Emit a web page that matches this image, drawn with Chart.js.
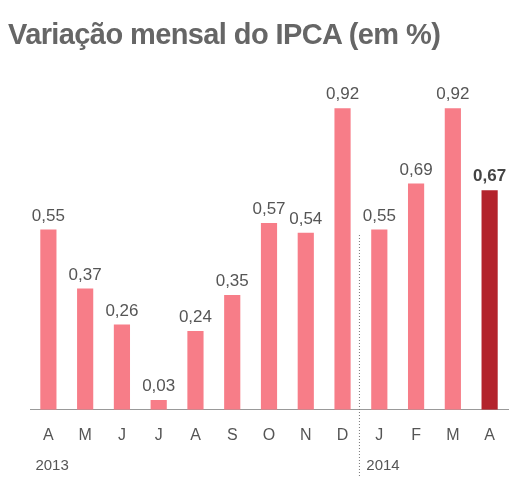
<!DOCTYPE html>
<html>
<head>
<meta charset="utf-8">
<script src="https://cdn.jsdelivr.net/npm/chart.js@4"></script>
<style>
  body { margin: 0; background: #fff; }
  #wrap { position: relative; width: 531px; height: 480px; }
  #title { position: absolute; left: 8px; top: 18px; margin: 0; font: bold 29px "Liberation Sans", Arial, sans-serif; color: #666; letter-spacing: -0.6px; }
</style>
</head>
<body>
<div id="wrap">
  <h1 id="title">Variação mensal do IPCA (em %)</h1>
  <canvas id="chart" width="531" height="480"></canvas>
</div>
<script>
  // Data
  const months = ["A", "M", "J", "J", "A", "S", "O", "N", "D", "J", "F", "M", "A"];
  const values = [0.55, 0.37, 0.26, 0.03, 0.24, 0.35, 0.57, 0.54, 0.92, 0.55, 0.69, 0.92, 0.67];
  const years = [{ label: "2013", index: 0 }, { label: "2014", index: 9 }];

  const pink = "#f77d88";
  const dark = "#b3232c";
  const font = "'Liberation Sans', Arial, sans-serif";

  const extras = {
    id: "extras",
    afterDatasetsDraw(chart) {
      const ctx = chart.ctx;
      const meta = chart.getDatasetMeta(0);
      const xs = chart.scales.x;
      ctx.save();
      ctx.textAlign = "center";
      ctx.textBaseline = "bottom";
      meta.data.forEach((bar, i) => {
        const last = i === values.length - 1;
        ctx.font = (last ? "bold " : "") + "17px " + font;
        ctx.fillStyle = last ? "#444" : "#555";
        ctx.fillText(values[i].toFixed(2).replace(".", ","), bar.x, bar.y - 5);
      });
      // year labels
      ctx.font = "15px " + font;
      ctx.fillStyle = "#555";
      ctx.textAlign = "left";
      years.forEach(y => {
        ctx.fillText(y.label, xs.getPixelForValue(y.index) - 13, 473);
      });
      // dotted divider
      const xd = (xs.getPixelForValue(8) + xs.getPixelForValue(9)) / 2 - 2;
      ctx.strokeStyle = "#777";
      ctx.setLineDash([1, 2]);
      ctx.lineWidth = 1;
      ctx.beginPath();
      ctx.moveTo(xd + 0.5, 235);
      ctx.lineTo(xd + 0.5, 476);
      ctx.stroke();
      ctx.restore();
    }
  };

  new Chart(document.getElementById("chart"), {
    type: "bar",
    data: {
      labels: months,
      datasets: [{
        data: values,
        backgroundColor: values.map((v, i) => i === values.length - 1 ? dark : pink),
        barPercentage: 0.44,
        categoryPercentage: 1
      }]
    },
    options: {
      responsive: false,
      devicePixelRatio: 1,
      animation: false,
      layout: { padding: { left: 30, right: 23, top: 60, bottom: 27 } },
      plugins: { legend: { display: false }, tooltip: { enabled: false } },
      scales: {
        x: {
          grid: { display: false },
          border: { display: true, color: "#999" },
          ticks: { color: "#555", font: { size: 16, family: font }, padding: 8 }
        },
        y: { display: false, min: 0, max: 1.067 }
      }
    },
    plugins: [extras]
  });
</script>
</body>
</html>
